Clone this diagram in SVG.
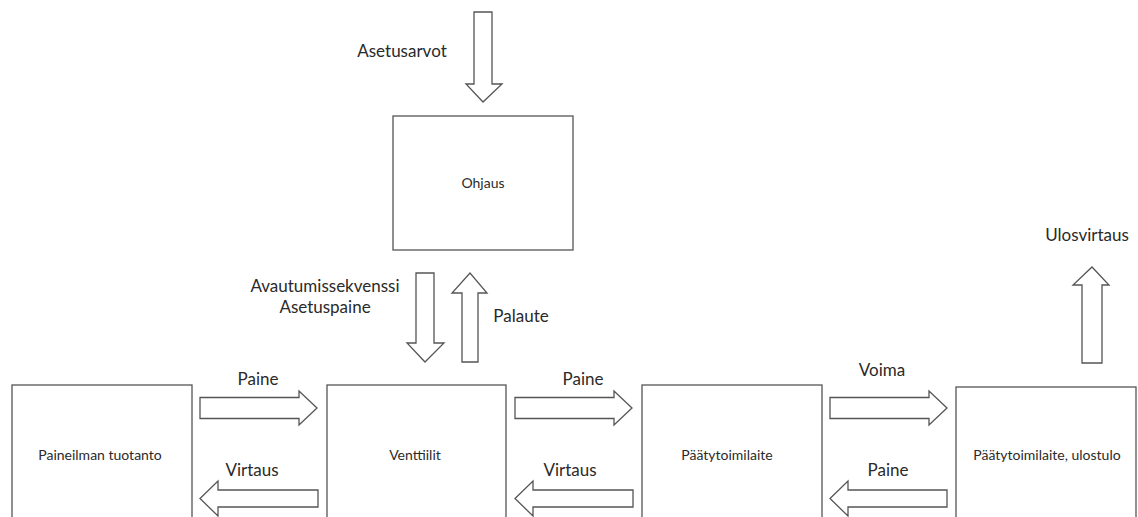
<svg xmlns="http://www.w3.org/2000/svg" width="1138" height="517" viewBox="0 0 1138 517">
<style>
.box{fill:#fff;stroke:#555;stroke-width:1.3}
.arr{fill:#fff;stroke:#555;stroke-width:1.3;stroke-linejoin:miter}
.lbl{font-family:Lato,"Liberation Sans",sans-serif;font-size:17px;fill:#2a2a2a;text-anchor:middle}
.nt{font-family:Lato,"Liberation Sans",sans-serif;font-size:14px;fill:#2a2a2a;text-anchor:middle}
</style>
<rect width="1138" height="517" fill="#fff"/>
<g id="ohjaus"><rect class="box" x="393" y="116" width="180" height="134"/><text class="nt" x="483" y="188">Ohjaus</text></g>
<g id="paineilman"><rect class="box" x="12" y="385" width="180" height="150"/><text class="nt" x="100" y="460">Paineilman tuotanto</text></g>
<g id="venttiilit"><rect class="box" x="327" y="385" width="179" height="150"/><text class="nt" x="415" y="460">Venttiilit</text></g>
<g id="paatytoimilaite"><rect class="box" x="642" y="385" width="180" height="150"/><text class="nt" x="727" y="460">Päätytoimilaite</text></g>
<g id="paatytoimilaite-ulostulo"><rect class="box" x="956" y="387" width="180" height="150"/><text class="nt" x="1047" y="460">Päätytoimilaite, ulostulo</text></g>
<g id="connectors">
<polygon class="arr" points="474,12 492,12 492,84 502,84 483,102 466,84 474,84"/>
<text class="lbl" x="402" y="57">Asetusarvot</text>
<polygon class="arr" points="416,273 434,273 434,343 444,343 425,362 407,343 416,343"/>
<polygon class="arr" points="462,362 478,362 478,293 487,293 470,273 452,293 462,293"/>
<text class="lbl" x="325" y="292">Avautumissekvenssi</text>
<text class="lbl" x="325" y="313">Asetuspaine</text>
<text class="lbl" x="521" y="322">Palaute</text>
<polygon class="arr" points="1082,363 1102,363 1102,285 1109,285 1092,267 1073,285 1082,285"/>
<text class="lbl" x="1087" y="241">Ulosvirtaus</text>
<polygon class="arr" points="200,397.5 299,397.5 299,391 317,408 299,425 299,418.5 200,418.5"/>
<text class="lbl" x="258" y="385">Paine</text>
<polygon class="arr" points="318,490 218,490 218,481 200,498.5 218,516 218,507 318,507"/>
<text class="lbl" x="252" y="476">Virtaus</text>
<polygon class="arr" points="515,397.5 614,397.5 614,391 632,408 614,425 614,418.5 515,418.5"/>
<text class="lbl" x="583" y="385">Paine</text>
<polygon class="arr" points="633,490 533,490 533,481 515,498.5 533,516 533,507 633,507"/>
<text class="lbl" x="570" y="476">Virtaus</text>
<polygon class="arr" points="830,397.5 929,397.5 929,391 947,408 929,425 929,418.5 830,418.5"/>
<text class="lbl" x="882" y="376">Voima</text>
<polygon class="arr" points="947,490 848,490 848,481 830,498.5 848,516 848,507 947,507"/>
<text class="lbl" x="888" y="476">Paine</text>
</g>
</svg>
